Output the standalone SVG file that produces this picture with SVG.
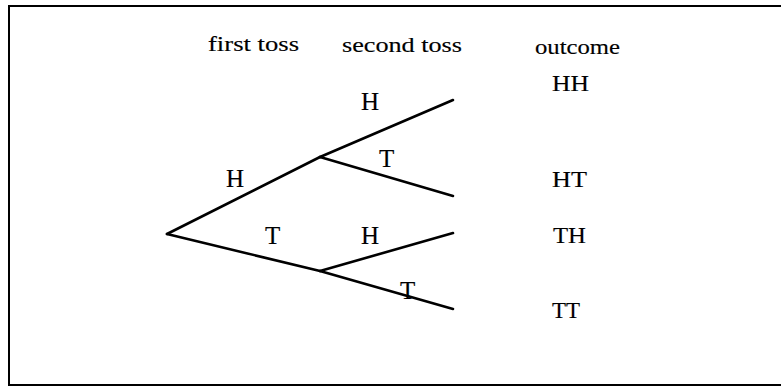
<svg xmlns="http://www.w3.org/2000/svg" width="781" height="386" viewBox="0 0 781 386">
<style>
.t{font-family:"Liberation Serif","Times New Roman",serif;fill:#000;stroke:#000;stroke-width:0.15}
.hd{font-size:21px}
.lb{font-size:25px}
.oc{font-size:23px}
.e{stroke:#000;stroke-width:2.6;fill:none;stroke-linecap:round}
</style>
<rect width="781" height="386" fill="#fff"/>
<path d="M781,6 H9 V385 H781" fill="none" stroke="#000" stroke-width="2"/>
<g id="headers">
<text class="t hd" x="208" y="51" textLength="91" lengthAdjust="spacingAndGlyphs">first toss</text>
<text class="t hd" x="342" y="52" textLength="120" lengthAdjust="spacingAndGlyphs">second toss</text>
<text class="t hd" x="535" y="54" textLength="85" lengthAdjust="spacingAndGlyphs">outcome</text>
</g>
<g id="connectors">
<line class="e" x1="167" y1="234" x2="320" y2="157"/>
<line class="e" x1="167" y1="234" x2="320" y2="271"/>
<line class="e" x1="320" y1="157" x2="453" y2="100"/>
<line class="e" x1="320" y1="157" x2="453" y2="196"/>
<line class="e" x1="320" y1="271" x2="453" y2="233"/>
<line class="e" x1="320" y1="271" x2="453" y2="309"/>
<text class="t lb" x="226" y="187">H</text>
<text class="t lb" x="265" y="244">T</text>
<text class="t lb" x="361" y="110">H</text>
<text class="t lb" x="379" y="167">T</text>
<text class="t lb" x="361" y="244">H</text>
<text class="t lb" x="400" y="299">T</text>
</g>
<g id="node-HH"><text class="t oc" x="552" y="91" textLength="37" lengthAdjust="spacingAndGlyphs">HH</text></g>
<g id="node-HT"><text class="t oc" x="552" y="187" textLength="35" lengthAdjust="spacingAndGlyphs">HT</text></g>
<g id="node-TH"><text class="t oc" x="553" y="243" textLength="33" lengthAdjust="spacingAndGlyphs">TH</text></g>
<g id="node-TT"><text class="t oc" x="552" y="318" textLength="28" lengthAdjust="spacingAndGlyphs">TT</text></g>
</svg>
